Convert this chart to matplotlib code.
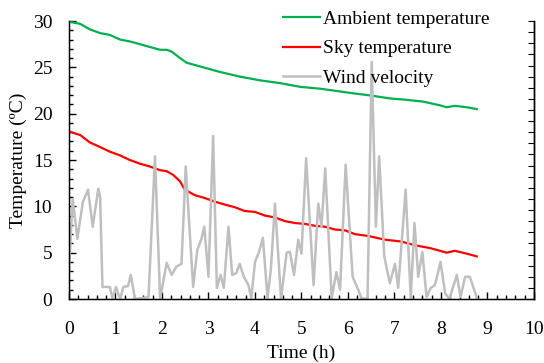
import matplotlib.pyplot as plt
from matplotlib.ticker import MultipleLocator

plt.rcParams['font.family'] = ['Liberation Serif', 'DejaVu Serif']

# Ambient temperature (green)
amb_t = [0, 0.03, 0.24, 0.45, 0.67, 0.88, 1.10, 1.31, 1.53, 1.74, 1.96, 2.10, 2.21,
         2.39, 2.53, 2.82, 3.25, 3.68, 4.11, 4.54, 4.97, 5.40, 5.83, 6.11, 6.44,
         6.90, 7.26, 7.62, 7.98, 8.12, 8.30, 8.55, 8.77]
amb_v = [30.0, 29.9, 29.7, 29.1, 28.7, 28.5, 28.0, 27.8, 27.5, 27.2, 26.9, 26.9, 26.7,
         26.0, 25.5, 25.1, 24.5, 24.0, 23.6, 23.3, 22.9, 22.7, 22.4, 22.2, 22.0,
         21.65, 21.5, 21.3, 20.9, 20.7, 20.85, 20.7, 20.5]

# Sky temperature (red)
sky_t = [0, 0.02, 0.24, 0.45, 0.67, 0.88, 1.10, 1.31, 1.53, 1.74, 1.96, 2.10, 2.24,
         2.39, 2.49, 2.71, 2.92, 3.14, 3.35, 3.57, 3.78, 4.00, 4.22, 4.43, 4.65,
         4.86, 5.08, 5.29, 5.51, 5.72, 5.94, 6.15, 6.44, 6.80, 7.15, 7.44, 7.76,
         7.98, 8.12, 8.30, 8.55, 8.77]
sky_v = [18.1, 18.05, 17.7, 16.9, 16.4, 15.9, 15.5, 15.0, 14.6, 14.3, 13.9, 13.8, 13.4,
         12.7, 11.8, 11.2, 10.9, 10.5, 10.2, 9.9, 9.5, 9.4, 9.0, 8.8, 8.4,
         8.2, 8.1, 7.9, 7.8, 7.5, 7.4, 7.0, 6.8, 6.4, 6.2, 5.8, 5.5,
         5.2, 5.0, 5.2, 4.9, 4.6]

# Wind velocity (grey)
wind_t = [0.0, 0.08, 0.18, 0.30, 0.41, 0.51, 0.63, 0.67, 0.72, 0.88, 0.94, 1.01, 1.10,
          1.17, 1.27, 1.33, 1.42, 1.71, 1.85, 1.96, 2.10, 2.21, 2.31, 2.42, 2.51,
          2.67, 2.76, 2.85, 2.91, 3.00, 3.10, 3.18, 3.26, 3.33, 3.43, 3.51, 3.60,
          3.67, 3.76, 3.86, 3.92, 4.00, 4.08, 4.17, 4.27, 4.34, 4.43, 4.56, 4.68,
          4.75, 4.84, 4.93, 5.00, 5.10, 5.26, 5.36, 5.43, 5.51, 5.65, 5.75, 5.83,
          5.95, 6.10, 6.22, 6.29, 6.42, 6.51, 6.60, 6.67, 6.78, 6.90, 7.01, 7.08,
          7.24, 7.35, 7.43, 7.51, 7.60, 7.69, 7.78, 7.87, 7.99, 8.09, 8.18, 8.34,
          8.42, 8.52, 8.62, 8.78]
wind_v = [3.0, 10.8, 6.5, 10.5, 11.8, 7.8, 11.9, 11.0, 1.3, 1.3, 0.0, 1.3, 0.0,
          1.3, 1.4, 2.6, 0.0, 0.2, 15.4, 0.0, 3.9, 2.6, 3.5, 3.8, 14.3,
          1.3, 5.3, 6.5, 7.8, 2.4, 17.6, 1.2, 2.6, 1.2, 7.8, 2.6, 2.8,
          3.8, 2.4, 1.5, 0.1, 4.0, 5.0, 6.6, 0.1, 3.1, 10.3, 0.0, 5.0,
          5.1, 2.6, 6.4, 4.9, 15.2, 1.5, 10.3, 7.8, 14.1, 0.1, 2.9, 1.0,
          14.5, 2.4, 1.0, 0.1, 0.0, 25.6, 7.8, 15.4, 4.6, 1.7, 3.8, 1.2,
          11.8, 0.1, 8.2, 2.4, 5.1, 0.2, 1.2, 1.5, 4.0, 0.6, 0.0, 2.6,
          0.2, 2.4, 2.4, 0.0]

fig = plt.figure(figsize=(5.44, 3.63), dpi=100)
ax = fig.add_axes([0.1268, 0.1763, 0.8548, 0.7657])

ax.plot(amb_t, amb_v, color='#00B050', lw=1.6, label='Ambient temperature')
ax.plot(sky_t, sky_v, color='#FF0000', lw=1.6, label='Sky temperature')
ax.plot(wind_t, wind_v, color='#BFBFBF', lw=1.8, label='Wind velocity',
        solid_joinstyle='round')

ax.set_xlim(0, 10)
ax.set_ylim(0, 30)
ax.xaxis.set_major_locator(MultipleLocator(1))
ax.xaxis.set_minor_locator(MultipleLocator(0.2))
ax.yaxis.set_major_locator(MultipleLocator(5))
ax.yaxis.set_minor_locator(MultipleLocator(1))
ax.tick_params(which='both', direction='in', labelsize=14, width=1)
ax.tick_params(axis='x', which='both', pad=16)
ax.tick_params(axis='y', which='both', pad=12)
ax.tick_params(which='major', length=5)
ax.tick_params(which='minor', length=3)
ax.spines['top'].set_visible(False)
for s in ax.spines.values():
    s.set_linewidth(1.0)

# right-hand axis only carries ticks
ax2 = ax.twinx()
ax2.set_ylim(0, 25)
ax2.yaxis.set_major_locator(MultipleLocator(1))
ax2.tick_params(direction='in', length=4, labelright=False)
ax2.spines['top'].set_visible(False)
ax2.spines['right'].set_linewidth(1.0)

ax.set_xlabel('Time (h)', fontsize=14, labelpad=5)
ax.set_ylabel('Temperature (ºC)', fontsize=14, labelpad=4)

fig.legend(loc='upper left', bbox_to_anchor=(0.52, 0.972), frameon=False,
           fontsize=14, handlelength=1.9, handletextpad=0.15, labelspacing=0.62,
           borderpad=0, borderaxespad=0)

fig.savefig('out.png', dpi=100)
